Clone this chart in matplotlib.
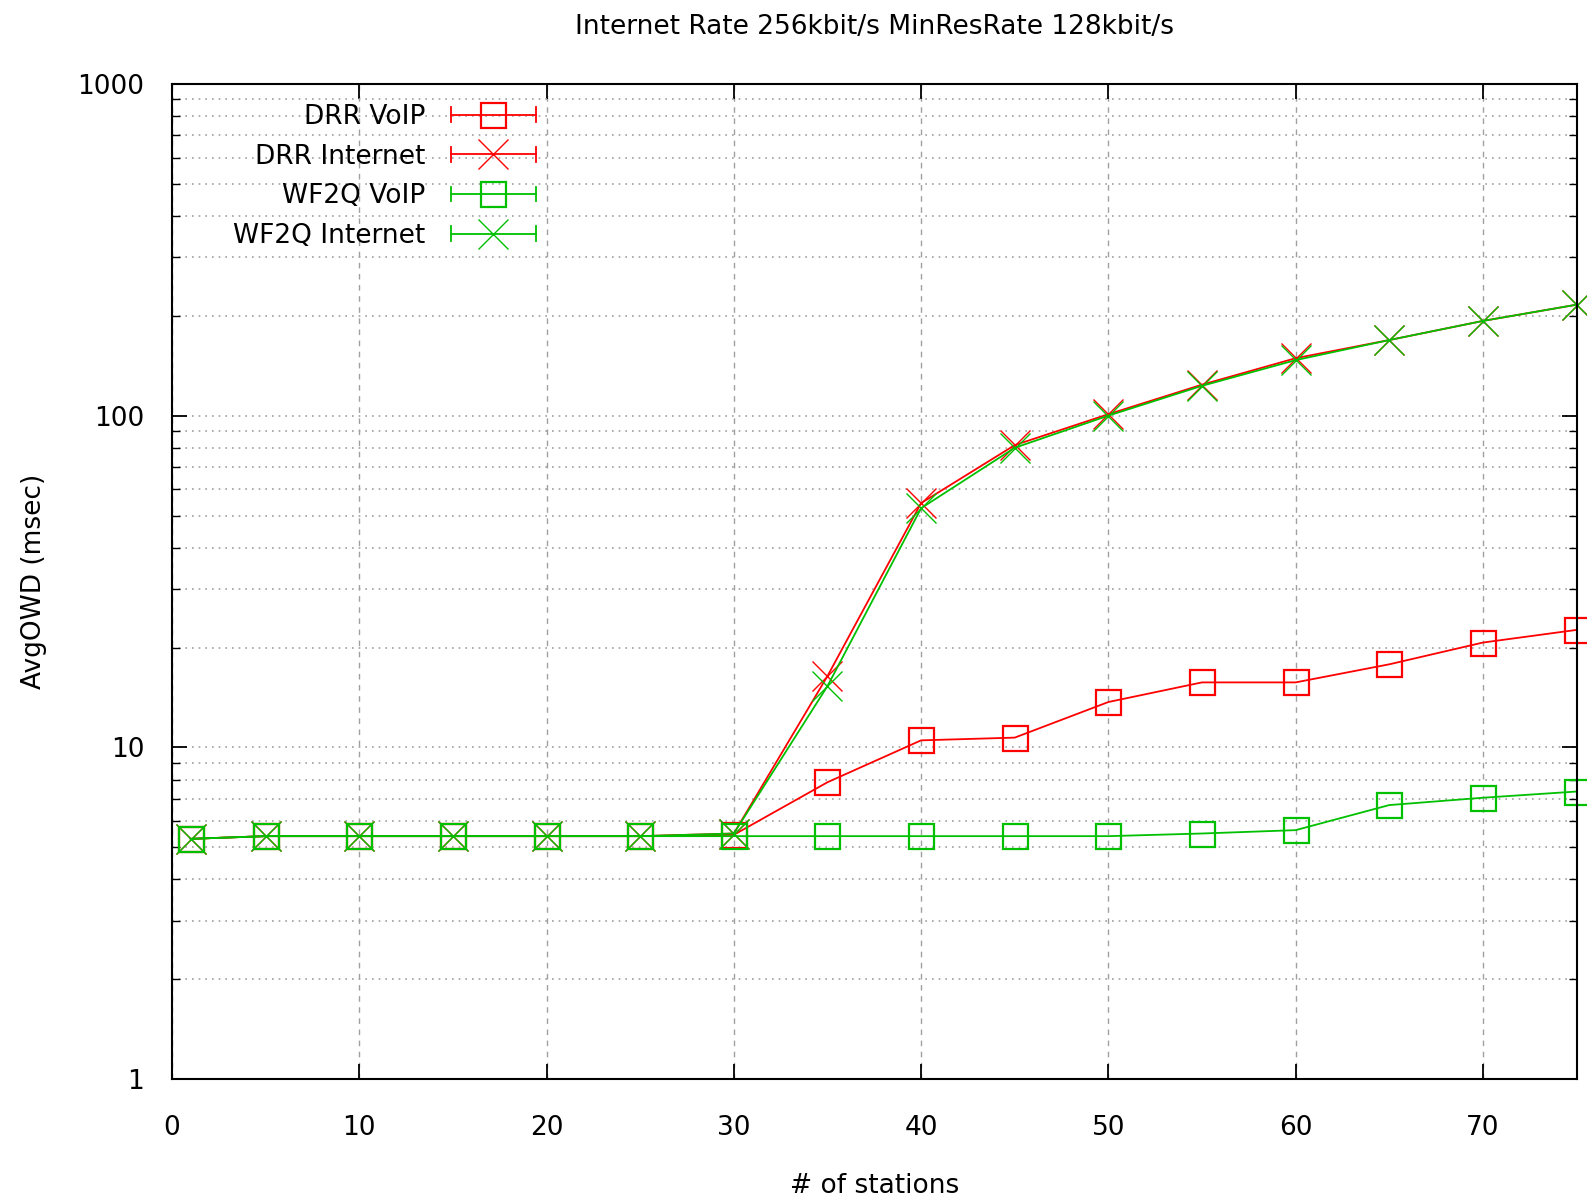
"""
Average one-way delay vs number of stations (gnuplot-look log plot).
"""
import matplotlib
matplotlib.use("Agg")
import matplotlib.pyplot as plt
from matplotlib.lines import Line2D
from matplotlib.legend_handler import HandlerBase
from matplotlib.ticker import FixedLocator, FuncFormatter, NullFormatter, LogLocator

# ── Data ──────────────────────────────────────────────────────
stations = [1, 5, 10, 15, 20, 25, 30, 35, 40, 45, 50, 55, 60, 65, 70, 75]

drr_voip     = [5.3, 5.4, 5.4, 5.4, 5.4, 5.4, 5.45, 7.85, 10.5, 10.7, 13.7, 15.7, 15.7, 17.8, 20.7, 22.6]
drr_internet = [5.3, 5.4, 5.4, 5.4, 5.4, 5.4, 5.5, 16.4, 54.5, 81.5, 101.0, 124.0, 149.0, 169.0, 193.0, 216.0]
wf2q_voip    = [5.3, 5.4, 5.4, 5.4, 5.4, 5.4, 5.4, 5.4, 5.4, 5.4, 5.4, 5.5, 5.63, 6.7, 7.05, 7.36]
wf2q_internet = [5.3, 5.4, 5.4, 5.4, 5.4, 5.4, 5.5, 15.3, 52.6, 80.0, 100.0, 123.0, 147.0, 169.0, 193.0, 216.0]

labels = ["DRR VoIP", "DRR Internet", "WF2Q VoIP", "WF2Q Internet"]

RED   = "#ff0000"
GREEN = "#00c000"
GRID  = "#a0a0a0"
FS    = 19


# ── gnuplot style legend key: horizontal bar with end caps + marker ──
class ErrKeyHandler(HandlerBase):
    def create_artists(self, legend, orig_handle, xdescent, ydescent,
                       width, height, fontsize, trans):
        c = orig_handle.get_color()
        x0, x1 = -xdescent, width - xdescent
        y = (height - ydescent) / 2
        cap = height * 0.4
        bar = Line2D([x0, x1], [y, y], color=c, lw=1.3)
        c0 = Line2D([x0, x0], [y - cap, y + cap], color=c, lw=1.3)
        c1 = Line2D([x1, x1], [y - cap, y + cap], color=c, lw=1.3)
        mk = Line2D([(x0 + x1) / 2], [y], ls="none",
                    marker=orig_handle.get_marker(),
                    markersize=orig_handle.get_markersize(),
                    markeredgewidth=orig_handle.get_markeredgewidth(),
                    markerfacecolor="none", markeredgecolor=c)
        arts = [bar, c0, c1, mk]
        for a in arts:
            a.set_transform(trans)
        return arts


fig = plt.figure(figsize=(15.87, 11.99), dpi=100)
ax = fig.add_axes([0.1084, 0.100, 0.885, 0.830])

series = [
    (drr_voip,      RED,   "s", 18, 1.6),
    (drr_internet,  RED,   "x", 21, 1.0),
    (wf2q_voip,     GREEN, "s", 18, 1.6),
    (wf2q_internet, GREEN, "x", 21, 1.0),
]
handles = []
for (vals, col, mk, ms, mew), lab in zip(series, labels):
    ln, = ax.plot(stations, vals, color=col, lw=1.3, marker=mk, markersize=ms,
                  markeredgewidth=mew, markerfacecolor="none",
                  markeredgecolor=col, label=lab, clip_on=False, zorder=3)
    handles.append(ln)

ax.set_yscale("log")
ax.set_xlim(0, 75)
ax.set_ylim(1, 1000)

ax.xaxis.set_major_locator(FixedLocator([0, 10, 20, 30, 40, 50, 60, 70]))
ax.yaxis.set_major_locator(FixedLocator([1, 10, 100, 1000]))
ax.yaxis.set_major_formatter(FuncFormatter(lambda v, p: f"{v:g}"))
ax.yaxis.set_minor_locator(LogLocator(base=10, subs=range(2, 10)))
ax.yaxis.set_minor_formatter(NullFormatter())

ax.tick_params(which="both", direction="in", top=True, right=True, labelsize=FS)
ax.tick_params(axis="y", which="major", length=11, width=1.3, pad=20)
ax.tick_params(axis="y", which="minor", length=6, width=1.0)
ax.tick_params(axis="x", which="major", length=11, width=1.3, pad=26)

ax.grid(True, axis="y", which="both", color=GRID, ls=(0, (1, 3)), lw=1.2)
ax.grid(True, axis="x", which="major", color=GRID, ls=(0, (4, 4)), lw=1.0)
ax.set_axisbelow(True)

for sp in ax.spines.values():
    sp.set_linewidth(1.5)
    sp.set_zorder(4)

ax.set_title("Internet Rate 256kbit/s MinResRate 128kbit/s", fontsize=FS, pad=36)
ax.set_xlabel("# of stations", fontsize=FS, labelpad=23)
ax.set_ylabel("AvgOWD (msec)", fontsize=FS, labelpad=22)

leg = ax.legend(handles=handles, labels=labels, loc="upper right",
                bbox_to_anchor=(0.2594, 0.980), frameon=False, markerfirst=False,
                fontsize=FS, handlelength=3.25, handletextpad=0.95,
                labelspacing=0.52, borderaxespad=0.0, borderpad=0.0,
                handler_map={Line2D: ErrKeyHandler()})

fig.savefig("out.png", dpi=100)
